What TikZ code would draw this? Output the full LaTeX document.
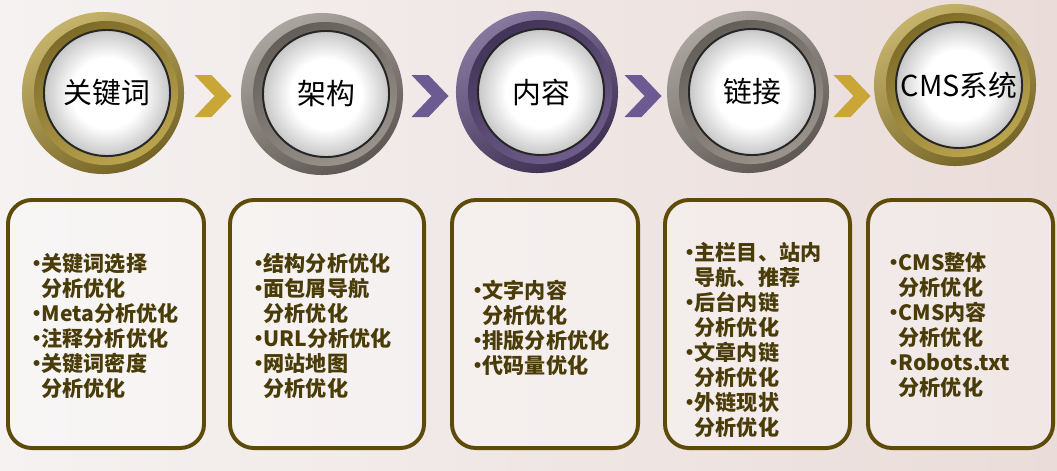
\documentclass[tikz,border=0pt]{standalone}
\usepackage{fontspec}
\setmainfont{Noto Sans CJK SC}
\usetikzlibrary{calc}

\definecolor{bgl}{HTML}{F5F2F1}
\definecolor{bgr}{HTML}{EADCD9}
\definecolor{ringgold}{HTML}{B39A3A}
\definecolor{ringgrey}{HTML}{8F877F}
\definecolor{ringpurple}{HTML}{5F4A7E}
\definecolor{chevgold}{HTML}{C9A636}
\definecolor{chevpurple}{HTML}{6E5A92}
\definecolor{panelline}{HTML}{5E4B0A}
\definecolor{paneltext}{HTML}{4A3C08}

\pgfdeclareradialshading{discshade}{\pgfpoint{0bp}{0bp}}{color(0bp)=(white); color(14bp)=(white); color(25bp)=(black!22); color(50bp)=(black!22)}

\newcommand{\sbul}{\makebox[0.4em][c]{\textbullet}}
\newcommand{\sind}{\hspace{0.4em}}

\tikzset{
	ring/.style={circle,minimum size=4.05cm,inner sep=0pt,top color=#1!75!white,bottom color=#1!65!black,shading angle=30},
	band/.style={circle,minimum size=3.6cm,inner sep=0pt,top color=#1!70!black,bottom color=#1!90!white,shading angle=30},
	disc/.style={circle,minimum size=3.15cm,inner sep=0pt,draw=black!85,line width=1.4pt,shading=discshade,font=\fontsize{20.5}{24}\selectfont},
	panel/.style={draw=panelline,line width=2.8pt,rounded corners=0.6cm,fill=white,fill opacity=0.35,minimum height=6.2cm,inner sep=0pt},
	items/.style={anchor=north west,inner sep=0pt,align=left,text=paneltext,font=\fontsize{15}{17.8}\selectfont\bfseries},
}

\begin{document}
\begin{tikzpicture}[x=0.025cm,y=-0.025cm]

	%\draw[help lines] (0,0) grid (1057,470);

	\shade[left color=bgl,right color=bgr] (0,0) rectangle (1057,470);
	\coordinate (axis) at (0,96);

	\foreach \x/\y/\n/\col/\lbl in {103/93/kw/ringgold/关键词, 322/94/jg/ringgrey/架构, 537/92/nr/ringpurple/内容, 748/92/lj/ringgrey/链接, 955/85/cms/ringgold/CMS系统}{
		\node[ring=\col] (\n-ring) at (\x,\y) {};
		\node[band=\col] (\n-band) at (\x+3,\y) {};
		\node[disc] (\n) at (\x+4,\y) {\lbl};
	}

	\foreach \a/\b/\col in {kw/jg/chevgold, jg/nr/chevpurple, nr/lj/chevpurple, lj/cms/chevgold}{
		\coordinate (\a-\b) at ($(\a-ring.east)!0.5!(\b-ring.west)$);
		\fill[\col] (\a-\b |- axis) ++(-18,-21) -- ++(17,0) -- ++(20,21) -- ++(-20,21) -- ++(-17,0) -- ++(20,-21) -- cycle;
	}

	\foreach \x/\w/\n in {106/4.9cm/kw, 327/4.85cm/jg, 545/4.65cm/nr, 757.5/4.625cm/lj, 960.5/4.625cm/cms}
		\node[panel,minimum width=\w] (\n-box) at (\x,324) {};

	\node[items] (kw-list) at (33,253) {\sbul 关键词选择\\ \sind 分析优化\\ \sbul Meta分析优化\\ \sbul 注释分析优化\\ \sbul 关键词密度\\ \sind 分析优化};
	\node[items] (jg-list) at (255,253) {\sbul 结构分析优化\\ \sbul 面包屑导航\\ \sind 分析优化\\ \sbul URL分析优化\\ \sbul 网站地图\\ \sind 分析优化};
	\node[items] (nr-list) at (474,280) {\sbul 文字内容\\ \sind 分析优化\\ \sbul 排版分析优化\\ \sbul 代码量优化};
	\node[items] (lj-list) at (686,242) {\sbul 主栏目、站内\\ \sind 导航、推荐\\ \sbul 后台内链\\ \sind 分析优化\\ \sbul 文章内链\\ \sind 分析优化\\ \sbul 外链现状\\ \sind 分析优化};
	\node[items] (cms-list) at (890,252) {\sbul CMS整体\\ \sind 分析优化\\ \sbul CMS内容\\ \sind 分析优化\\ \sbul Robots.txt\\ \sind 分析优化};

\end{tikzpicture}
\end{document}
